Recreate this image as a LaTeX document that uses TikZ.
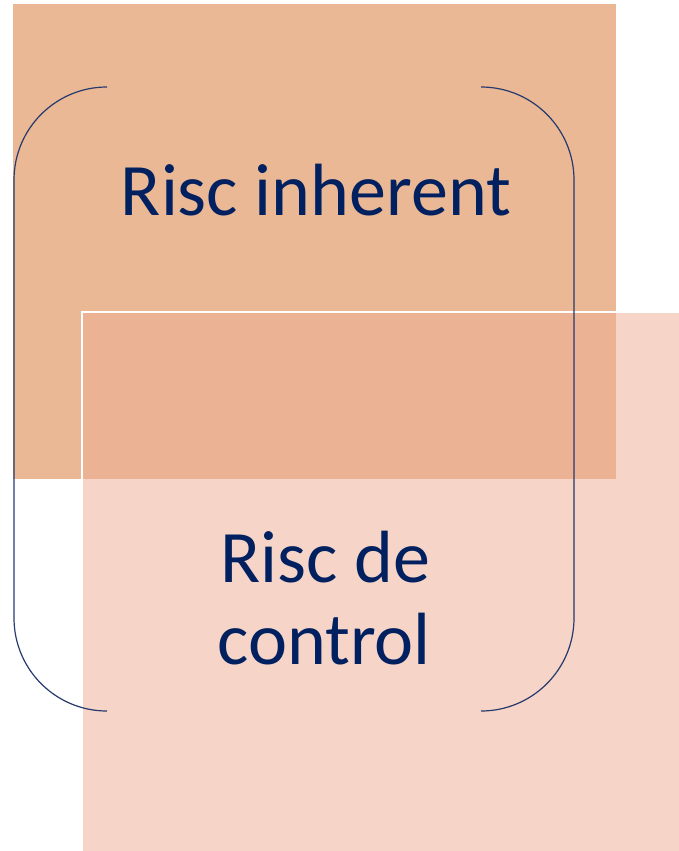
\documentclass[tikz,border=0pt]{standalone}
\usepackage{fontspec}
\setmainfont{Carlito}
\definecolor{tanA}{RGB}{234,184,148}
\definecolor{pinkB}{RGB}{246,212,199}
\definecolor{overl}{RGB}{236,178,148}
\definecolor{navy}{RGB}{0,32,96}
\definecolor{brk}{RGB}{38,58,110}
\tikzset{
  lbl/.style={text=navy, anchor=base, inner sep=0pt},
  brace/.style={draw=brk, line width=1.2pt, rounded corners=93pt}
}
\begin{document}
\begin{tikzpicture}[x=1pt,y=-1pt]
\useasboundingbox (0,0) rectangle (679,851);
\fill[tanA] (13,4) rectangle (616,479);
\fill[pinkB] (82,312) rectangle (679,851);
\fill[overl] (82,312) rectangle (616,479);
\draw[white, line width=2pt] (82,851) -- (82,312) -- (679,312);
\draw[brace] (107,87) -- (14,87) -- (14,711) -- (107,711);
\draw[brace] (481,87) -- (574,87) -- (574,711) -- (481,711);
\node[lbl, font=\fontsize{74}{89}\selectfont] (inh) at (316,215) {Risc inherent};
\node[lbl, font=\fontsize{74}{89}\selectfont] (de) at (325,582) {Risc de};
\node[lbl, font=\fontsize{74}{89}\selectfont] (ctl) at (324,664) {control};
\end{tikzpicture}
\end{document}
